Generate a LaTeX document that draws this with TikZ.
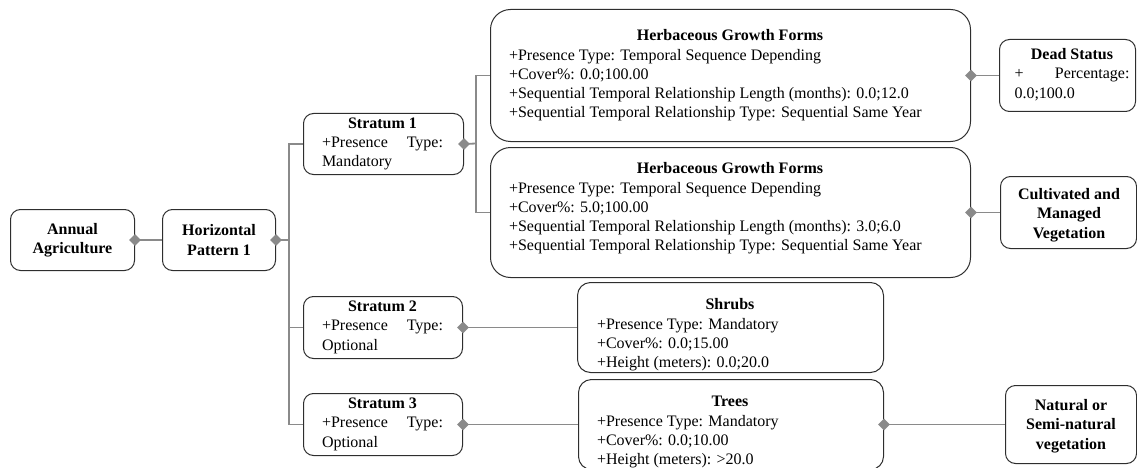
\documentclass[tikz,border=0pt]{standalone}
\usepackage{fontspec}
\setmainfont{Liberation Serif}
\usetikzlibrary{shapes.geometric}
\definecolor{edgecol}{HTML}{2E2E2E}
\definecolor{linkcol}{HTML}{8A8A8A}
\tikzset{
  x=1pt, y=-1pt,
  box/.style={draw=edgecol, line width=1pt, rounded corners=10pt, inner sep=0pt, anchor=north west},
  bigbox/.style={box, rounded corners=20pt},
  txt/.style={inner sep=0pt, font=\fontsize{16}{19.3}\selectfont},
  link/.style={draw=linkcol, line width=1.8pt},
  dia/.style={diamond, fill=linkcol, inner sep=0pt, minimum width=12pt, minimum height=12pt},
}
\begin{document}
\begin{tikzpicture}
\useasboundingbox (0,0) rectangle (1137,468);
\clip (0,0) rectangle (1137,468);

% boxes
\node[box, minimum width=124pt, minimum height=61pt] (annual) at (10,209) {};
\node[box, minimum width=113pt, minimum height=61pt] (horiz) at (162,209) {};
\node[box, minimum width=160pt, minimum height=61pt] (s1) at (303,113) {};
\node[box, minimum width=159pt, minimum height=62pt] (s2) at (303,296) {};
\node[box, minimum width=159pt, minimum height=62pt] (s3) at (303,393) {};
\node[bigbox, minimum width=480pt, minimum height=132pt] (hA) at (490,9) {};
\node[bigbox, minimum width=480pt, minimum height=130pt] (hB) at (490,147) {};
\node[box, rounded corners=13pt, minimum width=306pt, minimum height=90pt] (shrubs) at (577,282) {};
\node[box, rounded corners=13pt, minimum width=305pt, minimum height=90pt] (trees) at (578,379) {};
\node[box, minimum width=136pt, minimum height=72pt] (dead) at (999,39) {};
\node[box, minimum width=136pt, minimum height=72pt] (cult) at (1000,176) {};
\node[box, minimum width=131pt, minimum height=78pt] (nat) at (1005,385) {};

% texts
\node[txt, align=center] (annualT) at (annual.center) {\bfseries Annual\\\bfseries Agriculture};
\node[txt, align=center] (horizT) at (horiz.center) {\bfseries Horizontal\\\bfseries Pattern 1};
\node[txt] (s1T) at (382.5,143.5) {\begin{tabular}{@{}p{121pt}@{}}\multicolumn{1}{@{}c@{}}{\textbf{Stratum 1}}\\+Presence\hfill Type:\\Mandatory\end{tabular}};
\node[txt] (s2T) at (382.5,327) {\begin{tabular}{@{}p{121pt}@{}}\multicolumn{1}{@{}c@{}}{\textbf{Stratum 2}}\\+Presence\hfill Type:\\Optional\end{tabular}};
\node[txt] (s3T) at (382.5,424) {\begin{tabular}{@{}p{121pt}@{}}\multicolumn{1}{@{}c@{}}{\textbf{Stratum 3}}\\+Presence\hfill Type:\\Optional\end{tabular}};
\node[txt, anchor=north] (hAT) at (730,27) {\begin{tabular}{@{}p{442pt}@{}}\multicolumn{1}{@{}c@{}}{\textbf{Herbaceous Growth Forms}}\\
+Presence Type: Temporal Sequence Depending\\
+Cover\%: 0.0;100.00\\
+Sequential Temporal Relationship Length (months): 0.0;12.0\\
+Sequential Temporal Relationship Type: Sequential Same Year\end{tabular}};
\node[txt, anchor=north] (hBT) at (730,160) {\begin{tabular}{@{}p{442pt}@{}}\multicolumn{1}{@{}c@{}}{\textbf{Herbaceous Growth Forms}}\\
+Presence Type: Temporal Sequence Depending\\
+Cover\%: 5.0;100.00\\
+Sequential Temporal Relationship Length (months): 3.0;6.0\\
+Sequential Temporal Relationship Type: Sequential Same Year\end{tabular}};
\node[txt, anchor=north] (shrubsT) at (730,296) {\begin{tabular}{@{}p{266pt}@{}}\multicolumn{1}{@{}c@{}}{\textbf{Shrubs}}\\
+Presence Type: Mandatory\\
+Cover\%: 0.0;15.00\\
+Height (meters): 0.0;20.0\end{tabular}};
\node[txt, anchor=north] (treesT) at (730,393) {\begin{tabular}{@{}p{266pt}@{}}\multicolumn{1}{@{}c@{}}{\textbf{Trees}}\\
+Presence Type: Mandatory\\
+Cover\%: 0.0;10.00\\
+Height (meters): >20.0\end{tabular}};
\node[txt] (deadT) at (1072,75) {\begin{tabular}{@{}p{115pt}@{}}\multicolumn{1}{@{}c@{}}{\textbf{Dead Status}}\\+\hfill Percentage:\\0.0;100.0\end{tabular}};
\node[txt, align=center] (cultT) at (1069,215) {\bfseries Cultivated and\\\bfseries Managed\\\bfseries Vegetation};
\node[txt, align=center] (natT) at (1071,426) {\bfseries Natural or\\\bfseries Semi-natural\\\bfseries vegetation};

% junction points
\coordinate (trunk) at (289,240);
\coordinate (fork) at (476,143.5);

% connectors
\draw[link] (annual.east) -- (horiz.west);
\draw[link] (horiz.east) -- (trunk);
\draw[link] (s1.west) -| (trunk);
\draw[link] (s2.west) -| (trunk);
\draw[link] (s3.west) -| (trunk);
\draw[link] (s1.east) -- (fork);
\draw[link] (hA.west) -| (fork);
\draw[link] (hB.west) -| (fork);
\draw[link] (hA.east) -- (dead.west);
\draw[link] (hB.east) -- (cult.west);
\draw[link] (s2.east) -- (shrubs.west);
\draw[link] (s3.east) -- (trees.west);
\draw[link] (trees.east) -- (nat.west);

% aggregation diamonds
\node[dia] (dAnnual) at (annual.east) {};
\node[dia] (dHoriz) at (horiz.east) {};
\node[dia] (dS1) at (s1.east) {};
\node[dia] (dS2) at (s2.east) {};
\node[dia] (dS3) at (s3.east) {};
\node[dia] (dHA) at (hA.east) {};
\node[dia] (dHB) at (hB.east) {};
\node[dia] (dTrees) at (trees.east) {};
\end{tikzpicture}
\end{document}
